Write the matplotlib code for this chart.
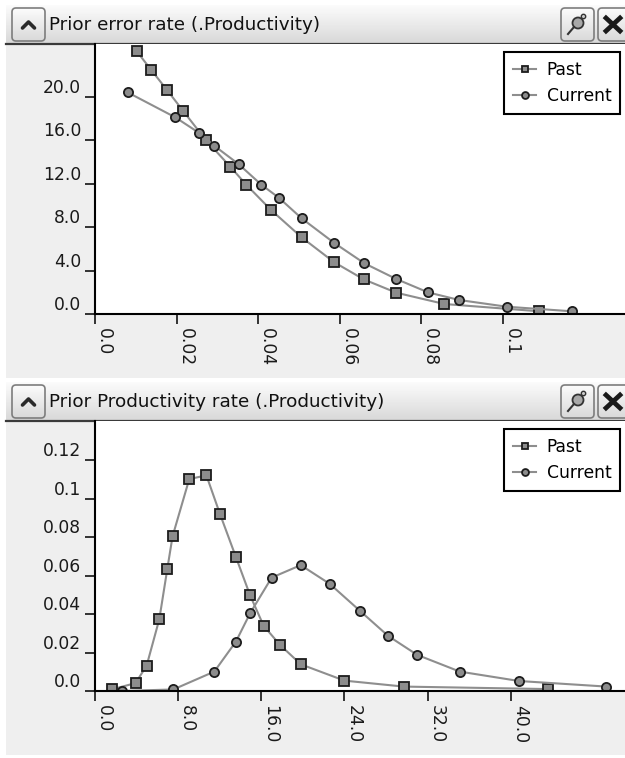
import matplotlib
matplotlib.use("Agg")
import matplotlib.pyplot as plt
import numpy as np
from matplotlib.patches import Rectangle, FancyBboxPatch, Circle
from matplotlib.lines import Line2D

# --- data ---
err_past_x = [0.0102, 0.0137, 0.0177, 0.0216, 0.0272, 0.0332, 0.0371, 0.0431,
              0.0507, 0.0586, 0.0659, 0.0739, 0.0857, 0.1089]
err_past_y = [24.2, 22.5, 20.6, 18.7, 16.0, 13.55, 11.9, 9.6, 7.05, 4.78,
              3.19, 1.96, 0.92, 0.25]
err_cur_x = [0.0080, 0.0197, 0.0254, 0.0292, 0.0352, 0.0408, 0.0451, 0.0507,
             0.0586, 0.0661, 0.0739, 0.0817, 0.0893, 0.1010, 0.1169]
err_cur_y = [20.4, 18.1, 16.7, 15.5, 13.8, 11.9, 10.7, 8.8, 6.56, 4.66,
             3.22, 1.99, 1.29, 0.67, 0.25]
err_xticks = [0.0, 0.02, 0.04, 0.06, 0.08, 0.1]
err_xlabels = ["0.0", "0.02", "0.04", "0.06", "0.08", "0.1"]
err_yticks = [0, 4, 8, 12, 16, 20]
err_ylabels = ["0.0", "4.0", "8.0", "12.0", "16.0", "20.0"]

prod_past_x = [1.65, 3.9, 4.97, 6.19, 6.96, 7.46, 9.07, 10.72, 12.02, 13.56,
               14.93, 16.23, 17.8, 19.8, 24.0, 29.7, 43.6]
prod_past_y = [0.0009, 0.0041, 0.0132, 0.0374, 0.0636, 0.0804, 0.1103, 0.1122,
               0.0922, 0.0697, 0.0497, 0.0339, 0.0240, 0.0139, 0.0054, 0.0023,
               0.0010]
prod_cur_x = [2.57, 7.54, 11.48, 13.56, 14.93, 17.0, 19.8, 22.6, 25.5, 28.2,
              31.0, 35.1, 40.8, 49.2]
prod_cur_y = [0.0, 0.0008, 0.0101, 0.0257, 0.0405, 0.0590, 0.0655, 0.0557,
              0.0417, 0.0287, 0.0188, 0.0101, 0.0052, 0.0023]
prod_xticks = [0, 8, 16, 24, 32, 40]
prod_xlabels = ["0.0", "8.0", "16.0", "24.0", "32.0", "40.0"]
prod_yticks = [0, 0.02, 0.04, 0.06, 0.08, 0.1, 0.12]
prod_ylabels = ["0.0", "0.02", "0.04", "0.06", "0.08", "0.1", "0.12"]

titles = ["Prior error rate (.Productivity)",
          "Prior Productivity rate (.Productivity)"]

W, H = 625, 758
BG = "#efefef"

fig = plt.figure(figsize=(W / 100, H / 100), dpi=100, facecolor="white")

# background layer in pixel coords (y down)
bg = fig.add_axes([0, 0, 1, 1], zorder=-5)
bg.set_xlim(0, W)
bg.set_ylim(H, 0)
bg.axis("off")

grad = np.linspace(0.985, 0.85, 64).reshape(-1, 1)


def button(x0, y0, w, h):
    p = FancyBboxPatch((x0, y0), w, h, boxstyle="round,pad=0,rounding_size=4",
                       facecolor="none", edgecolor="#7d7d7d", lw=1.2, zorder=3)
    bg.add_patch(p)
    im = bg.imshow(grad, cmap="gray", vmin=0, vmax=1, aspect="auto",
                   extent=[x0, x0 + w, y0 + h, y0], zorder=2)
    im.set_clip_path(p)


def panel(off, title):
    # panel area + header
    bg.add_patch(Rectangle((6, 5 + off), W - 6, 373, facecolor=BG,
                           edgecolor="none", zorder=0))
    bg.imshow(grad, cmap="gray", vmin=0, vmax=1, aspect="auto",
              extent=[6, W, 43 + off, 5 + off], zorder=1)
    bg.plot([6, W], [43.5 + off, 43.5 + off], color="#3a3a3a", lw=1.6, zorder=4)
    # collapse button
    button(12, 8 + off, 33, 33)
    bg.plot([22.5, 28.5, 34.5], [28 + off, 22 + off, 28 + off], color="#2a2a2a",
            lw=2.6, solid_capstyle="round", zorder=5)
    bg.text(49, 25 + off, title, fontsize=13.2, va="center", ha="left",
            color="#111111", zorder=5)
    # pin button
    button(561, 8 + off, 33, 33)
    bg.add_patch(Circle((578, 23 + off), 5.5, facecolor="#a8a8a8",
                        edgecolor="#333333", lw=1.3, zorder=5))
    bg.add_patch(Circle((583.5, 16.5 + off), 2.2, facecolor="#cccccc",
                        edgecolor="#333333", lw=1.0, zorder=5))
    bg.plot([568, 574], [34 + off, 27 + off], color="#333333", lw=1.5, zorder=5)
    # close button
    button(598, 8 + off, 34, 33)
    bg.plot([606, 620], [18 + off, 31 + off], color="#1a1a1a", lw=3.4, zorder=5)
    bg.plot([606, 620], [31 + off, 18 + off], color="#1a1a1a", lw=3.4, zorder=5)


def style_axes(ax, xt, xl, yt, yl):
    for s in ("top", "right"):
        ax.spines[s].set_visible(False)
    for s in ("left", "bottom"):
        ax.spines[s].set_linewidth(1.5)
        ax.spines[s].set_color("black")
    ax.set_xticks(xt)
    ax.set_xticklabels(xl, rotation=-90, ha="left", va="top")
    ax.set_yticks(yt)
    ax.set_yticklabels(yl, va="bottom")
    ax.tick_params(direction="out", length=7, width=1.1, pad=3,
                   labelsize=12.3, colors="black", labelcolor="#1a1a1a")
    ax.set_facecolor("white")


line_kw = dict(color="#8e8e8e", lw=1.5, mfc="#8c8c8c", mec="#1c1c1c",
               mew=1.3, ms=6.6)


def add_legend(ax):
    leg = ax.legend(loc="upper right", bbox_to_anchor=(1 - 5 / 530, 1 - 8 / 271),
                    borderaxespad=0, fancybox=False, edgecolor="black",
                    framealpha=1, fontsize=12.3, handlelength=1.4,
                    handletextpad=0.6, labelspacing=0.5, borderpad=0.5,
                    markerscale=0.75, numpoints=1)
    leg.get_frame().set_linewidth(1.5)


panel(0, titles[0])
panel(377, titles[1])

# top chart
ax1 = fig.add_axes([95 / W, 1 - 314 / H, 530 / W, 270 / H])
ax1.plot(err_past_x, err_past_y, marker="s", label="Past", **line_kw)
ax1.plot(err_cur_x, err_cur_y, marker="o", label="Current", **line_kw)
ax1.set_xlim(0, 0.13)
ax1.set_ylim(0, 24.85)
style_axes(ax1, err_xticks, err_xlabels, err_yticks, err_ylabels)
add_legend(ax1)

# bottom chart
ax2 = fig.add_axes([95 / W, 1 - 691 / H, 530 / W, 270 / H])
ax2.plot(prod_past_x, prod_past_y, marker="s", label="Past", **line_kw)
ax2.plot(prod_cur_x, prod_cur_y, marker="o", label="Current", **line_kw)
ax2.set_xlim(0, 51)
ax2.set_ylim(0, 0.1405)
style_axes(ax2, prod_xticks, prod_xlabels, prod_yticks, prod_ylabels)
add_legend(ax2)

fig.savefig("out.png", dpi=100, facecolor="white")
